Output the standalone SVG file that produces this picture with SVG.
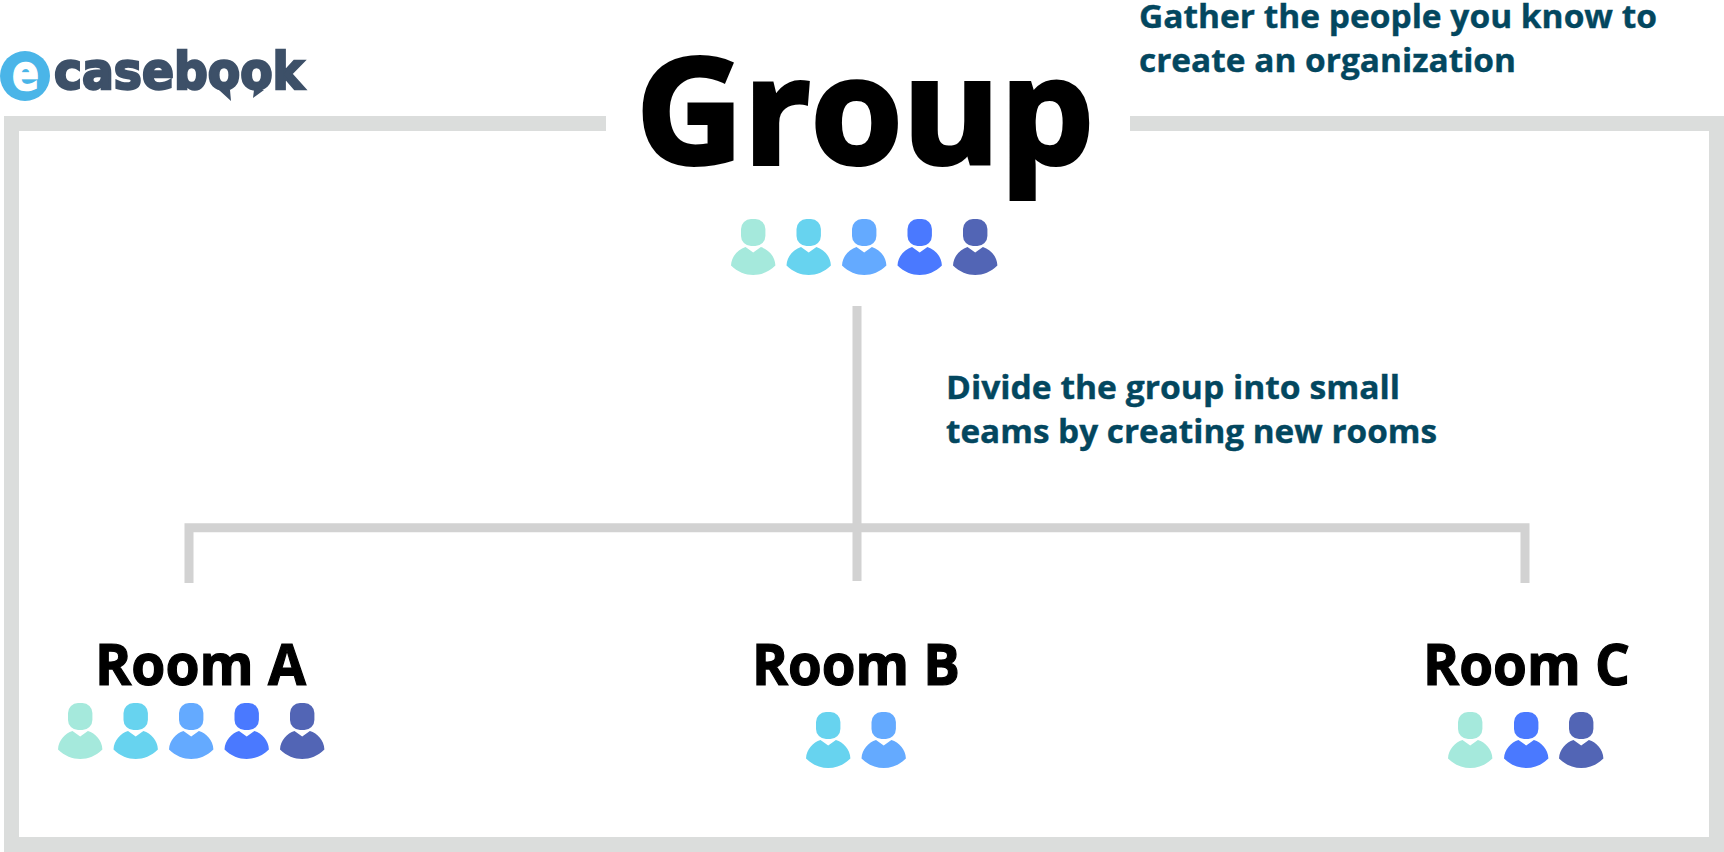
<svg xmlns="http://www.w3.org/2000/svg" width="1724" height="852" viewBox="0 0 1724 852">
<style>
text{font-family:"Open Sans","Noto Sans","Liberation Sans",sans-serif;font-weight:700}
.logo{font-family:"DejaVu Sans","Liberation Sans",sans-serif}
.room{font-size:57px;fill:#000;stroke:#000;stroke-width:1.2px}
.note{font-size:33px;fill:#03475f;stroke:#03475f;stroke-width:.4px}
.frame{fill:none;stroke:#dbdddc;stroke-width:15}
.conn{fill:none;stroke:#d2d2d2;stroke-width:9}
.c1{fill:#a5e9dc}.c2{fill:#67d3ef}.c3{fill:#64aaff}.c4{fill:#4a79ff}.c5{fill:#5265b5}
</style>
<defs>
<g id="person">
<rect x="10" y="0" width="24.400" height="27" rx="10" ry="10"/>
<path d="M0 46.500C.5 37 7 30.500 14.500 28L22.200 33.500 29.900 28C37.500 30.500 44 37 44.400 46.500 38 53 30 56 22.200 56 14.500 56 6.500 53 0 46.500Z"/>
</g>
</defs>
<g id="frame"><path class="frame" d="M606 123.500H11.500V844.500H1716.500V123.500H1130"/></g>
<g id="connectors">
<path class="conn" d="M857 306V581M189 583V527.800H1525V583"/>
</g>
<g id="logo">
<circle cx="25" cy="76" r="25" fill="#4ab5e8"/>
<text class="logo" x="12" y="90" font-size="50" fill="#fff" stroke="#fff" stroke-width="1.500" textLength="27" lengthAdjust="spacingAndGlyphs">e</text>
<text class="logo" x="54" y="89" font-size="51" fill="#3d5068" stroke="#3d5068" stroke-width="2.500" textLength="250" lengthAdjust="spacingAndGlyphs">casebook</text>
<path d="M219 90L231 101 230 90ZM253 98L264 90 254 90Z" fill="#3d5068"/>
</g>
<g id="group">
<text x="636" y="163.500" font-size="147" fill="#000" stroke="#000" stroke-width="4" textLength="458" lengthAdjust="spacingAndGlyphs">Group</text>
<use href="#person" x="731" y="219" class="c1"/><use href="#person" x="786.500" y="219" class="c2"/><use href="#person" x="842" y="219" class="c3"/><use href="#person" x="897.500" y="219" class="c4"/><use href="#person" x="953" y="219" class="c5"/>
</g>
<g id="note-group">
<text class="note" x="1139" y="28" textLength="518" lengthAdjust="spacingAndGlyphs">Gather the people you know to</text>
<text class="note" x="1139" y="72" textLength="377" lengthAdjust="spacingAndGlyphs">create an organization</text>
</g>
<g id="note-divide">
<text class="note" x="946" y="399" textLength="454" lengthAdjust="spacingAndGlyphs">Divide the group into small</text>
<text class="note" x="946" y="443" textLength="491" lengthAdjust="spacingAndGlyphs">teams by creating new rooms</text>
</g>
<g id="room-a">
<text class="room" x="95" y="685" textLength="211" lengthAdjust="spacingAndGlyphs">Room A</text>
<use href="#person" x="58" y="703" class="c1"/><use href="#person" x="113.500" y="703" class="c2"/><use href="#person" x="169" y="703" class="c3"/><use href="#person" x="224.500" y="703" class="c4"/><use href="#person" x="280" y="703" class="c5"/>
</g>
<g id="room-b">
<text class="room" x="752" y="685" textLength="208" lengthAdjust="spacingAndGlyphs">Room B</text>
<use href="#person" x="806" y="712" class="c2"/><use href="#person" x="861.500" y="712" class="c3"/>
</g>
<g id="room-c">
<text class="room" x="1423" y="685" textLength="207" lengthAdjust="spacingAndGlyphs">Room C</text>
<use href="#person" x="1448" y="712" class="c1"/><use href="#person" x="1504" y="712" class="c4"/><use href="#person" x="1559" y="712" class="c5"/>
</g>
</svg>
